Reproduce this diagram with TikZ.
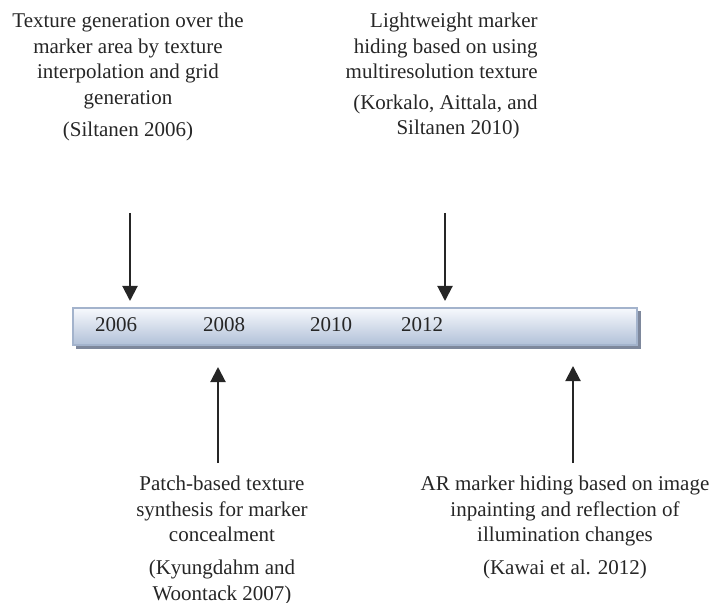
\documentclass[tikz,border=0pt]{standalone}
\usepackage{fontspec}
\setmainfont{Liberation Serif}
\usepackage{xcolor}
\usepackage{tikz}
\usetikzlibrary{arrows.meta}
\definecolor{barTop}{HTML}{F7F9FD}
\definecolor{barBottom}{HTML}{B3C2D9}
\definecolor{barEdge}{HTML}{A3B3CC}
\definecolor{barShadow}{HTML}{7E889C}

\begin{document}
\begin{tikzpicture}[x=0.5pt, y=-0.5pt,
  every node/.style={font=\fontsize{10.5}{12.75}\selectfont, inner sep=0pt, text=black!85},
  event/.style={align=center, anchor=north},
  year/.style={anchor=base},
  pointer/.style={line width=1pt, black!85, -{Triangle[width=7.5pt,length=7.5pt]}}]
\useasboundingbox (0,0) rectangle (710,603);
\fill[barShadow] (76,311) rectangle (641,349);
\foreach \i in {0,...,36}{
  \pgfmathsetmacro\p{100*\i/36}
  \fill[barBottom!\p!barTop] (73,308+\i) rectangle (637,309.2+\i);
}
\draw[barEdge, line width=0.75pt] (73,308) rectangle (637,345);
\node[year] (y2006) at (116,332) {2006};
\node[year] (y2008) at (224,332) {2008};
\node[year] (y2010) at (331,332) {2010};
\node[year] (y2012) at (422,332) {2012};
\node[event] (texgen) at (128,13) {Texture generation over the\\marker area by texture\\interpolation and grid\\generation};
\node[event] (siltanen) at (128,121.5) {(Siltanen 2006)};
\node[event, align=right, anchor=north east] (lightweight) at (538,13) {Lightweight marker\\hiding based on using\\multiresolution texture};
\node[event, align=right, anchor=north east] (korkalo) at (538,94.5) {(Korkalo, Aittala, and\\Siltanen 2010)\hspace*{9pt}};
\node[event] (patch) at (222,476) {Patch-based texture\\synthesis for marker\\concealment};
\node[event] (kyungdahm) at (222,560) {(Kyungdahm and\\Woontack 2007)};
\node[event] (armarker) at (565,476) {AR marker hiding based on image\\inpainting and reflection of\\illumination changes};
\node[event] (kawai) at (565,560) {(Kawai et al. 2012)};
\coordinate (t2006) at (130,213);
\coordinate (h2006) at (130,301);
\coordinate (t2010) at (445,213);
\coordinate (h2010) at (445,301);
\coordinate (t2007) at (218,463);
\coordinate (h2007) at (218,367);
\coordinate (t2012) at (573,463);
\coordinate (h2012) at (573,366);
\draw[pointer] (t2006) -- (h2006);
\draw[pointer] (t2010) -- (h2010);
\draw[pointer] (t2007) -- (h2007);
\draw[pointer] (t2012) -- (h2012);
\end{tikzpicture}
\end{document}
